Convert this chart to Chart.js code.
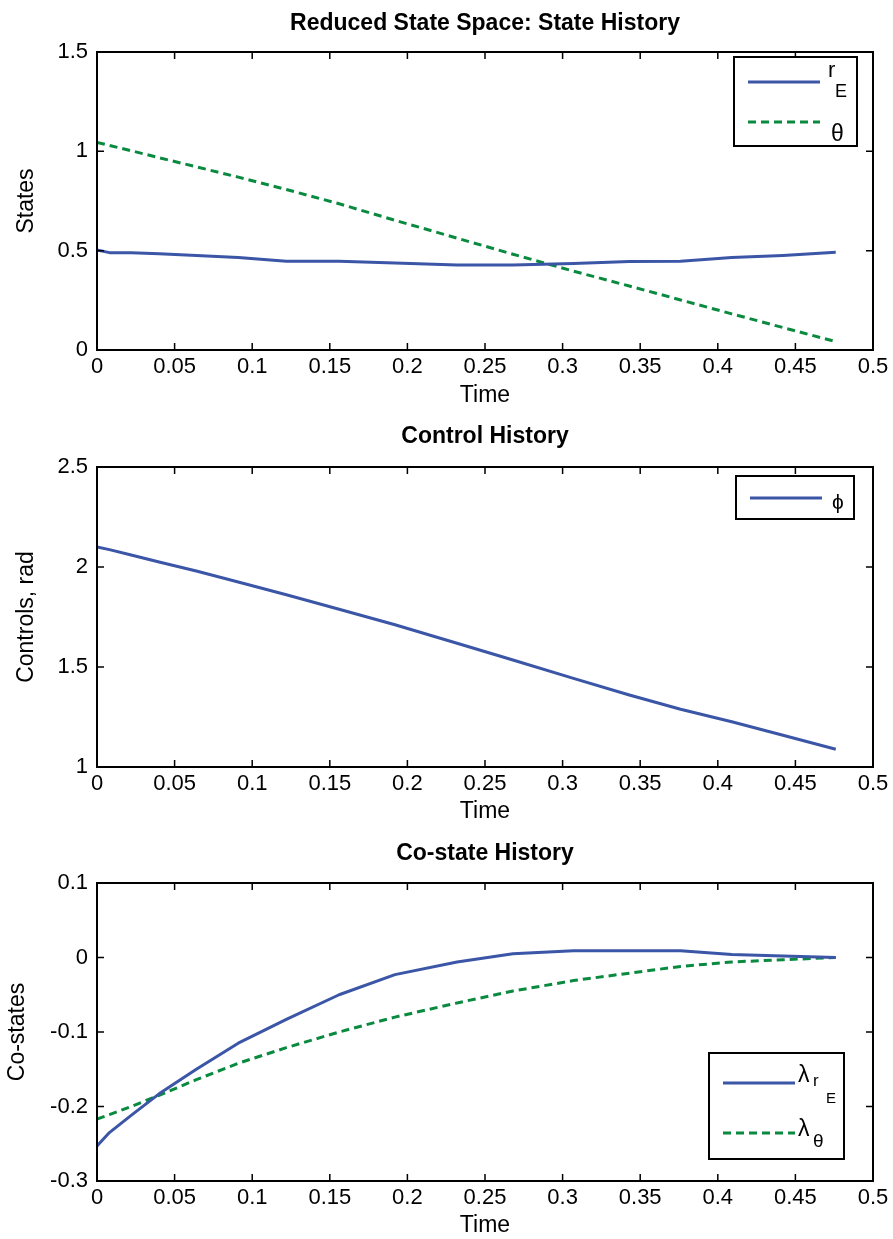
<!DOCTYPE html>
<html>
<head>
<meta charset="utf-8">
<script src="https://cdn.jsdelivr.net/npm/chart.js@4/dist/chart.umd.min.js"></script>
<style>
  html, body { margin: 0; padding: 0; background: #fff; }
  body { width: 893px; height: 1239px; position: relative; overflow: hidden; }
  canvas { position: absolute; left: 0; }
</style>
</head>
<body>
<canvas id="states" width="893" height="413" style="top:0px"></canvas>
<canvas id="controls" width="893" height="413" style="top:413px"></canvas>
<canvas id="costates" width="893" height="413" style="top:826px"></canvas>
<script>
// Solution nodes (time) and the histories sampled at them
const time = [0, 0.008, 0.022, 0.040, 0.064, 0.091, 0.122, 0.156, 0.192, 0.232, 0.268, 0.307, 0.343, 0.376, 0.409, 0.442, 0.476];
const rE = [0.503, 0.490, 0.490, 0.484, 0.476, 0.466, 0.447, 0.447, 0.438, 0.428, 0.428, 0.436, 0.445, 0.447, 0.465, 0.476, 0.492];
const theta = [1.045, 1.030, 1.003, 0.968, 0.922, 0.870, 0.808, 0.736, 0.653, 0.563, 0.482, 0.397, 0.322, 0.252, 0.182, 0.113, 0.042];
const phi = [2.100, 2.087, 2.060, 2.025, 1.980, 1.925, 1.861, 1.789, 1.711, 1.619, 1.535, 1.443, 1.360, 1.289, 1.226, 1.159, 1.089];
const lamRE = [-0.253, -0.235, -0.212, -0.183, -0.150, -0.115, -0.083, -0.050, -0.023, -0.006, 0.005, 0.009, 0.009, 0.009, 0.004, 0.002, 0.000];
const lamTheta = [-0.217, -0.211, -0.200, -0.185, -0.164, -0.142, -0.121, -0.100, -0.080, -0.061, -0.045, -0.031, -0.021, -0.012, -0.006, -0.003, 0.000];

// Tick values and their labels
const xTicks = [0, 0.05, 0.1, 0.15, 0.2, 0.25, 0.3, 0.35, 0.4, 0.45, 0.5];
const xTickLabels = ['0', '0.05', '0.1', '0.15', '0.2', '0.25', '0.3', '0.35', '0.4', '0.45', '0.5'];
const stateTicks = [0, 0.5, 1, 1.5];
const stateTickLabels = ['0', '0.5', '1', '1.5'];
const controlTicks = [1, 1.5, 2, 2.5];
const controlTickLabels = ['1', '1.5', '2', '2.5'];
const costateTicks = [-0.3, -0.2, -0.1, 0, 0.1];
const costateTickLabels = ['-0.3', '-0.2', '-0.1', '0', '0.1'];

const FONT = '"Liberation Sans", Arial, Helvetica, sans-serif';
const BLUE = '#3b55a7';
const GREEN = '#098a3f';
const W = 893, H = 413;

const pts = ys => time.map((t, i) => ({ x: t, y: ys[i] }));

const solid = (label, ys) => ({
  label, data: pts(ys), borderColor: BLUE, borderWidth: 3,
  pointRadius: 0, tension: 0, fill: false, borderJoinStyle: 'round'
});
const dashed = (label, ys) => ({
  label, data: pts(ys), borderColor: GREEN, borderWidth: 3, borderDash: [8, 5],
  pointRadius: 0, tension: 0, fill: false
});

// Boxed axes with inward tick marks on all four sides, a title, and a boxed legend
const matFrame = {
  id: 'matFrame',
  afterDatasetsDraw(chart, args, o) {
    const { ctx, chartArea: a, scales: { x, y } } = chart;
    ctx.save();
    ctx.strokeStyle = '#000';
    ctx.lineWidth = 1.5;
    const L = 7;
    ctx.beginPath();
    x.ticks.forEach(t => {
      const px = x.getPixelForValue(t.value);
      ctx.moveTo(px, a.bottom); ctx.lineTo(px, a.bottom - L);
      ctx.moveTo(px, a.top); ctx.lineTo(px, a.top + L);
    });
    y.ticks.forEach(t => {
      const py = y.getPixelForValue(t.value);
      ctx.moveTo(a.left, py); ctx.lineTo(a.left + L, py);
      ctx.moveTo(a.right, py); ctx.lineTo(a.right - L, py);
    });
    ctx.stroke();
    ctx.lineWidth = 2;
    ctx.strokeRect(a.left, a.top, a.right - a.left, a.bottom - a.top);
    ctx.restore();
  },
  afterDraw(chart, args, o) {
    const { ctx, chartArea: a } = chart;
    ctx.save();
    // title
    ctx.fillStyle = '#000';
    ctx.font = `bold 23px ${FONT}`;
    ctx.textAlign = 'center';
    ctx.textBaseline = 'alphabetic';
    ctx.fillText(o.title, (a.left + a.right) / 2, o.titleBaseline);
    // legend
    const lg = o.legend;
    const [bx1, by1, bx2, by2] = lg.box;
    ctx.fillStyle = '#fff';
    ctx.fillRect(bx1, by1, bx2 - bx1, by2 - by1);
    ctx.strokeStyle = '#000';
    ctx.lineWidth = 2;
    ctx.strokeRect(bx1, by1, bx2 - bx1, by2 - by1);
    lg.items.forEach(it => {
      const ds = chart.data.datasets[it.dataset];
      ctx.save();
      ctx.strokeStyle = ds.borderColor;
      ctx.lineWidth = ds.borderWidth;
      ctx.setLineDash(ds.borderDash || []);
      ctx.beginPath();
      ctx.moveTo(lg.lineX[0], it.y);
      ctx.lineTo(lg.lineX[1], it.y);
      ctx.stroke();
      ctx.restore();
      ctx.fillStyle = '#000';
      ctx.textAlign = 'left';
      it.parts.forEach(p => {
        ctx.font = `${p.size}px ${FONT}`;
        ctx.fillText(p.t, p.x, it.y + p.dy);
      });
    });
    ctx.restore();
  }
};

function makeChart(id, datasets, cfg) {
  return new Chart(document.getElementById(id), {
    type: 'line',
    data: { datasets },
    plugins: [matFrame],
    options: {
      responsive: false,
      animation: false,
      devicePixelRatio: 1,
      layout: { padding: { left: 0, right: W - 873, top: cfg.areaTop, bottom: 0 } },
      plugins: {
        legend: { display: false },
        tooltip: { enabled: false },
        matFrame: cfg.frame
      },
      scales: {
        x: {
          type: 'linear', min: 0, max: 0.5,
          afterBuildTicks: s => { s.ticks = xTicks.map(v => ({ value: v })); },
          afterFit: s => { s.height = H - cfg.areaBottom; },
          grid: { display: false, drawTicks: false },
          border: { display: false },
          ticks: {
            color: '#000', padding: 4, maxRotation: 0, autoSkip: false,
            font: { family: FONT, size: 22 },
            callback: (v, i) => xTickLabels[i]
          },
          title: {
            display: true, text: 'Time', color: '#000',
            font: { family: FONT, size: 23 }, padding: { top: 0, bottom: cfg.xTitlePad }
          }
        },
        y: {
          type: 'linear', min: cfg.yTicks[0], max: cfg.yTicks[cfg.yTicks.length - 1],
          afterBuildTicks: s => { s.ticks = cfg.yTicks.map(v => ({ value: v })); },
          afterFit: s => { s.width = 97; },
          grid: { display: false, drawTicks: false },
          border: { display: false },
          ticks: {
            color: '#000', padding: 9, autoSkip: false,
            font: { family: FONT, size: 22 },
            callback: (v, i) => cfg.yTickLabels[i]
          },
          title: {
            display: true, text: cfg.yTitle, color: '#000',
            font: { family: FONT, size: 23 }, padding: { top: cfg.yTitlePad, bottom: 0 }
          }
        }
      }
    }
  });
}

makeChart('states', [solid('rE', rE), dashed('θ', theta)], {
  areaTop: 52, areaBottom: 350, xTitlePad: 4, yTitlePad: 13,
  yTicks: stateTicks, yTickLabels: stateTickLabels, yTitle: 'States',
  frame: {
    title: 'Reduced State Space: State History', titleBaseline: 30,
    legend: {
      box: [734, 57, 857, 146], lineX: [748, 820],
      items: [
        { dataset: 0, y: 82, parts: [{ t: 'r', x: 828, dy: -5, size: 22 }, { t: 'E', x: 835, dy: 15, size: 18 }] },
        { dataset: 1, y: 122, parts: [{ t: 'θ', x: 831, dy: 19, size: 23 }] }
      ]
    }
  }
});

makeChart('controls', [solid('ϕ', phi)], {
  areaTop: 54, areaBottom: 354, xTitlePad: 1, yTitlePad: 13,
  yTicks: controlTicks, yTickLabels: controlTickLabels, yTitle: 'Controls, rad',
  frame: {
    title: 'Control History', titleBaseline: 30,
    legend: {
      box: [736, 63, 854, 106], lineX: [750, 822],
      items: [
        { dataset: 0, y: 85, parts: [{ t: 'ϕ', x: 832, dy: 11, size: 21 }] }
      ]
    }
  }
});

makeChart('costates', [solid('λrE', lamRE), dashed('λθ', lamTheta)], {
  areaTop: 57, areaBottom: 355, xTitlePad: 0, yTitlePad: 4,
  yTicks: costateTicks, yTickLabels: costateTickLabels, yTitle: 'Co-states',
  frame: {
    title: 'Co-state History', titleBaseline: 34,
    legend: {
      box: [709, 227, 844, 333], lineX: [723, 795],
      items: [
        { dataset: 0, y: 257, parts: [{ t: 'λ', x: 798, dy: -1, size: 23 }, { t: 'r', x: 813, dy: 3, size: 17 }, { t: 'E', x: 826, dy: 20, size: 15 }] },
        { dataset: 1, y: 307, parts: [{ t: 'λ', x: 798, dy: 3, size: 23 }, { t: 'θ', x: 813, dy: 14, size: 19 }] }
      ]
    }
  }
});
</script>
</body>
</html>
